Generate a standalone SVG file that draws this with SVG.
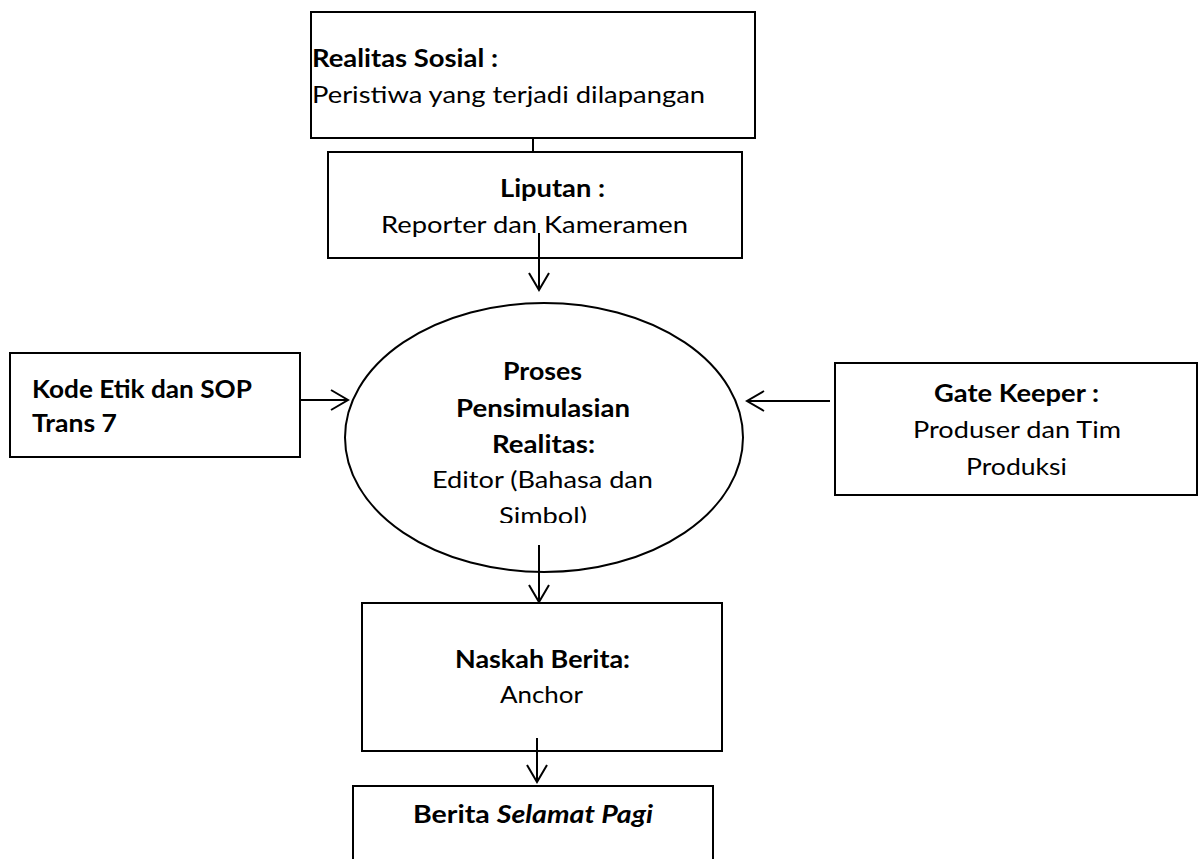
<svg xmlns="http://www.w3.org/2000/svg" width="1198" height="859" viewBox="0 0 1198 859">
<defs>
<style>
.box{fill:#fff;stroke:#000;stroke-width:2}
.ln{stroke:#000;stroke-width:2;fill:none}
.t{font-family:Lato,"Open Sans",sans-serif;font-size:24px;fill:#000}
.b{font-weight:bold}
</style>
<marker id="ah" markerUnits="userSpaceOnUse" markerWidth="22" markerHeight="26" refX="18" refY="12" orient="auto" viewBox="0 0 22 26">
<path d="M1,2 L18,12 L1,22" fill="none" stroke="#000" stroke-width="2"/>
</marker>
<clipPath id="ec"><rect x="340" y="300" width="410" height="223"/></clipPath>
</defs>
<rect width="1198" height="859" fill="#fff"/>
<g id="realitas">
<rect class="box" x="311" y="12" width="444" height="126"/>
<text class="t b" x="312" y="67" textLength="186" lengthAdjust="spacingAndGlyphs">Realitas Sosial :</text>
<text class="t" x="312" y="103" textLength="393" lengthAdjust="spacingAndGlyphs">Peristiwa yang terjadi dilapangan</text>
</g>
<g id="liputan">
<rect class="box" x="328" y="152" width="414" height="106"/>
<text class="t b" x="500" y="197" textLength="105" lengthAdjust="spacingAndGlyphs">Liputan :</text>
<text class="t" x="381" y="233" textLength="307" lengthAdjust="spacingAndGlyphs">Reporter dan Kameramen</text>
</g>
<g id="proses">
<ellipse class="box" cx="544" cy="437.5" rx="199" ry="134.5"/>
<g clip-path="url(#ec)">
<text class="t b" x="503" y="380" textLength="79" lengthAdjust="spacingAndGlyphs">Proses</text>
<text class="t b" x="456" y="417" textLength="174" lengthAdjust="spacingAndGlyphs">Pensimulasian</text>
<text class="t b" x="492" y="453" textLength="103" lengthAdjust="spacingAndGlyphs">Realitas:</text>
<text class="t" x="432" y="488" textLength="221" lengthAdjust="spacingAndGlyphs">Editor (Bahasa dan</text>
<text class="t" x="499" y="524" textLength="88" lengthAdjust="spacingAndGlyphs">Simbol)</text>
</g>
</g>
<g id="kode">
<rect class="box" x="10" y="353" width="290" height="104"/>
<text class="t b" x="32" y="398" textLength="220" lengthAdjust="spacingAndGlyphs">Kode Etik dan SOP</text>
<text class="t b" x="32" y="432" textLength="85" lengthAdjust="spacingAndGlyphs">Trans 7</text>
</g>
<g id="gatekeeper">
<rect class="box" x="835" y="363" width="362" height="132"/>
<text class="t b" x="934" y="402" textLength="165" lengthAdjust="spacingAndGlyphs">Gate Keeper :</text>
<text class="t" x="913" y="438" textLength="208" lengthAdjust="spacingAndGlyphs">Produser dan Tim</text>
<text class="t" x="966" y="475" textLength="101" lengthAdjust="spacingAndGlyphs">Produksi</text>
</g>
<g id="naskah">
<rect class="box" x="362" y="603" width="360" height="148"/>
<text class="t b" x="455" y="668" textLength="175" lengthAdjust="spacingAndGlyphs">Naskah Berita:</text>
<text class="t" x="500" y="703" textLength="83" lengthAdjust="spacingAndGlyphs">Anchor</text>
</g>
<g id="berita">
<rect class="box" x="353" y="786" width="360" height="90"/>
<text class="t b" x="413" y="823" textLength="240" lengthAdjust="spacingAndGlyphs">Berita <tspan font-style="italic">Selamat Pagi</tspan></text>
</g>
<g id="connectors">
<line class="ln" x1="533" y1="138" x2="533" y2="152"/>
<line class="ln" x1="539" y1="233" x2="539" y2="290" marker-end="url(#ah)"/>
<line class="ln" x1="300" y1="400" x2="348" y2="400" marker-end="url(#ah)"/>
<line class="ln" x1="830" y1="401" x2="747" y2="401" marker-end="url(#ah)"/>
<line class="ln" x1="539" y1="545" x2="539" y2="602" marker-end="url(#ah)"/>
<line class="ln" x1="537" y1="738" x2="537" y2="782" marker-end="url(#ah)"/>
</g>
</svg>
